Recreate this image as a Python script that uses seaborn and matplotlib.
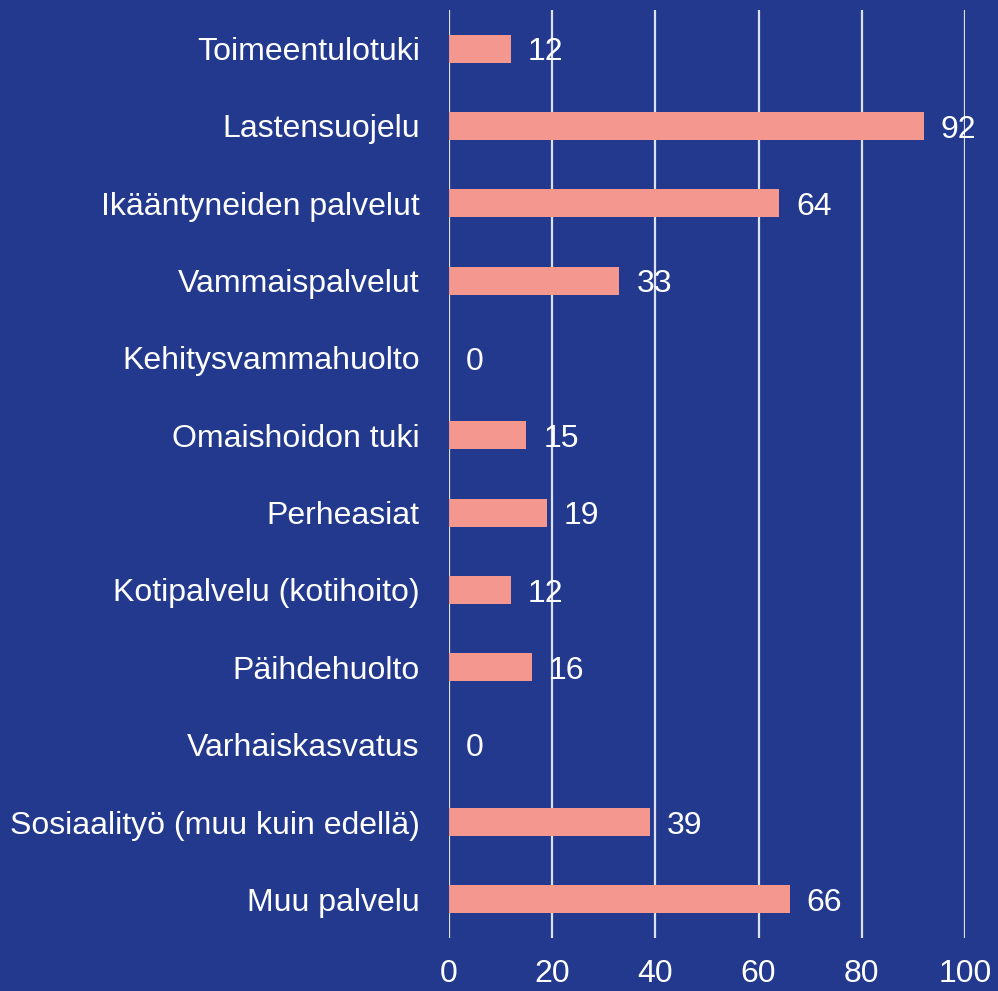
import matplotlib
matplotlib.use('Agg')
import matplotlib.pyplot as plt
import seaborn as sns
import pandas as pd

categories = ['Toimeentulotuki', 'Lastensuojelu', 'Ikääntyneiden palvelut',
              'Vammaispalvelut', 'Kehitysvammahuolto', 'Omaishoidon tuki',
              'Perheasiat', 'Kotipalvelu (kotihoito)', 'Päihdehuolto',
              'Varhaiskasvatus', 'Sosiaalityö (muu kuin edellä)', 'Muu palvelu']
values = [12, 92, 64, 33, 0, 15, 19, 12, 16, 0, 39, 66]
xticks = [0, 20, 40, 60, 80, 100]

bg = '#22398e'
bar_col = '#f4978e'
grid_col = '#dce1f2'

sns.set_style('white')
plt.rcParams['font.family'] = ['Liberation Sans', 'DejaVu Sans']

df = pd.DataFrame({'cat': categories, 'val': values})

fig = plt.figure(figsize=(9.98, 9.91), dpi=100, facecolor=bg)
ax = fig.add_axes([449/998, 1-938/991, (965-449)/998, (938-10)/991])
ax.set_facecolor(bg)

sns.barplot(data=df, x='val', y='cat', color=bar_col, saturation=1, width=0.36,
            linewidth=0, ax=ax, zorder=3)

ax.set_xlim(0, 100)
ax.set_ylim(11.5, -0.5)
ax.set_xticks(xticks)
for x in xticks:
    ax.axvline(x, color=grid_col, lw=1.6, zorder=1)

for i, v in enumerate(values):
    ax.text(v + 3.3, i, str(v), color='white', fontsize=23, va='center_baseline', ha='left', zorder=4)

for s in ax.spines.values():
    s.set_visible(False)
ax.set_xlabel('')
ax.set_ylabel('')
ax.tick_params(axis='y', length=0, pad=21, labelsize=23, labelcolor='white')
ax.tick_params(axis='x', length=0, pad=15, labelsize=23, labelcolor='white')

fig.savefig('out.png', dpi=100, facecolor=bg)
